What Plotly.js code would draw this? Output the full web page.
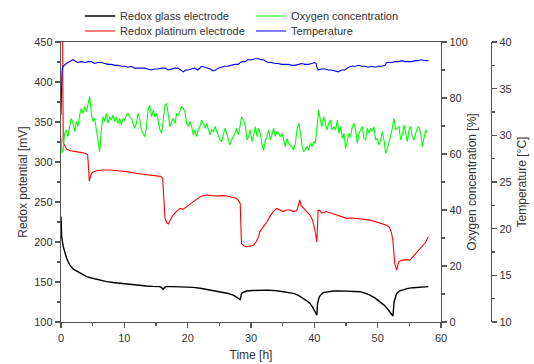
<!DOCTYPE html>
<html>
<head>
<meta charset="utf-8">
<script src="https://cdn.plot.ly/plotly-3.0.1.min.js"></script>
<style>html,body{margin:0;padding:0;background:#fff;}#chart{width:534px;height:364px;}</style>
</head>
<body>
<div id="chart"></div>
<script>
// ---- Redox glass electrode (left axis, mV) ----
var tGlass = [0, 0.1, 0.36, 0.63, 0.89, 1.15, 1.42, 1.95, 2.5, 3.0,
  3.5, 4.05, 4.8, 5.6, 6.4, 7.2, 8.2, 9.3, 10.3, 11.4,
  12.5, 13.5, 14.5, 15.6, 15.9, 16.1, 16.4, 16.7, 17.7, 18.8,
  19.9, 20.9, 22.0, 23.0, 24.0, 25.1, 26.2, 27.2, 27.7, 28.0,
  28.3, 28.5, 28.9, 29.3, 30.3, 31.4, 32.7, 34.05, 35.4, 36.7,
  37.5, 38.3, 38.8, 39.3, 39.7, 40.1, 40.4, 40.5, 40.8, 41.4,
  42.2, 43.0, 44.0, 45.1, 46.2, 47.2, 48.0, 48.8, 49.6, 50.4,
  51.1, 51.7, 52.1, 52.4, 52.6, 53.0, 53.5, 54.1, 54.8, 55.6,
  56.5, 57.3, 58.0];
var vGlass = [232, 207, 194, 186, 179.6, 175, 171, 166, 163.5, 161.7,
  159, 156.7, 155, 153.3, 151.5, 150.4, 149.3, 148.3, 147.2, 146.3,
  145.6, 145, 144.5, 144.2, 143, 140.8, 143.5, 144.2, 144.2, 144.2,
  143.8, 143.3, 142.2, 140.8, 139.4, 137.9, 136, 133.7, 131.5, 129.6,
  127.5, 135.8, 137.5, 138.7, 139.4, 140, 139.8, 139, 137.8, 135.8,
  133.2, 129.6, 126.5, 123.3, 119, 113, 108.7, 123, 131.7, 136.7,
  138, 138.7, 138.9, 138.7, 138.3, 137.9, 136, 133.7, 129.8, 125.4,
  120.5, 115, 110.5, 107.5, 125.4, 135.8, 139, 140.8, 142, 142.9,
  143.5, 144, 144.2];

// ---- Redox platinum electrode (left axis, mV) ----
var tPlat = [0, 0.25, 0.35, 0.63, 0.9, 1.42, 2.0, 2.47, 3.1, 3.79,
  4.21, 4.35, 4.47, 4.65, 4.84, 5.2, 5.63, 6.5, 7.74, 9.0,
  10.4, 11.7, 13.0, 14.0, 15.1, 15.7, 16.05, 16.2, 16.42, 16.7,
  16.95, 17.3, 17.7, 18.2, 18.8, 19.3, 19.8, 20.3, 20.9, 21.5,
  22.0, 22.5, 23.0, 23.8, 24.6, 25.4, 26.2, 27.0, 27.7, 28.0,
  28.3, 28.4, 28.5, 28.9, 29.3, 29.9, 30.4, 30.8, 31.2, 31.4,
  31.9, 32.5, 33.0, 33.5, 34.05, 34.6, 35.1, 35.6, 36.2, 36.7,
  37.2, 37.5, 37.7, 37.9, 38.3, 38.8, 39.3, 39.7, 40.1, 40.4,
  40.6, 40.9, 41.2, 41.9, 42.7, 43.5, 44.3, 45.1, 45.9, 46.7,
  47.5, 48.3, 49.0, 49.8, 50.6, 51.4, 51.9, 52.2, 52.4, 52.5,
  52.7, 53.0, 53.3, 53.7, 54.05, 54.6, 55.1, 55.6, 56.2, 56.7,
  57.2, 57.6, 58.0];
var vPlat = [480, 460, 324, 319, 316, 314, 313, 313, 312, 311,
  309, 292, 276, 282, 286, 288, 289, 290, 290, 289,
  288, 286, 285, 284, 282.5, 282, 280, 255, 230, 224,
  222.5, 228, 233.7, 238, 242, 241, 244, 247, 250, 254,
  256.7, 258, 258.7, 258, 257.5, 258, 257.5, 256, 254.6, 252,
  248, 220, 198, 195, 194, 195, 196, 200, 206.7, 213,
  218, 225, 232, 238, 242, 240, 238, 240, 240, 238,
  239, 246, 252.5, 246, 242, 238, 233.7, 228, 215, 200,
  240, 239, 236, 238, 236, 233.7, 232, 229.6, 230, 229.6,
  229, 228, 227, 225, 223, 221, 218, 210.8, 202, 190,
  173, 165, 175, 177, 177.5, 178, 177.5, 182, 188, 192,
  196, 200, 206.7];

// ---- Oxygen concentration (right axis, %) ----
var tO2 = [0, 0.15, 0.32, 0.58, 0.84, 1.10, 1.37, 1.63, 1.89, 2.16,
  2.42, 2.68, 2.95, 3.21, 3.47, 3.74, 4.00, 4.26, 4.53, 4.79,
  5.05, 5.32, 5.58, 5.84, 6.10, 6.37, 6.63, 6.89, 7.16, 7.42,
  7.68, 7.95, 8.21, 8.47, 8.74, 9.00, 9.26, 9.53, 9.79, 10.05,
  10.32, 10.58, 10.84, 11.11, 11.37, 11.63, 11.90, 12.16, 12.42, 12.68,
  12.95, 13.21, 13.47, 13.74, 14.00, 14.31, 14.58, 14.84, 15.10, 15.37,
  15.63, 15.89, 16.16, 16.42, 16.68, 16.94, 17.21, 17.47, 17.73, 18.00,
  18.26, 18.52, 18.79, 19.05, 19.31, 19.58, 19.84, 20.10, 20.37, 20.63,
  20.89, 21.16, 21.42, 21.68, 21.94, 22.21, 22.47, 22.73, 23.00, 23.26,
  23.52, 23.79, 24.05, 24.31, 24.58, 24.84, 25.10, 25.37, 25.63, 25.89,
  26.16, 26.42, 26.68, 26.94, 27.21, 27.47, 27.73, 28.00, 28.26, 28.52,
  28.84, 29.11, 29.37, 29.63, 29.90, 30.16, 30.42, 30.69, 30.95, 31.21,
  31.47, 31.74, 32.00, 32.26, 32.53, 32.79, 33.05, 33.32, 33.58, 33.84,
  34.11, 34.37, 34.63, 34.90, 35.16, 35.42, 35.69, 35.95, 36.21, 36.47,
  36.74, 37.00, 37.26, 37.53, 37.79, 38.05, 38.32, 38.58, 38.84, 39.11,
  39.37, 39.63, 39.90, 40.16, 40.42, 40.69, 40.95, 41.21, 41.47, 41.74,
  42.00, 42.26, 42.53, 42.79, 43.05, 43.36, 43.63, 43.89, 44.15, 44.42,
  44.68, 44.94, 45.21, 45.47, 45.73, 46.00, 46.26, 46.52, 46.78, 47.05,
  47.31, 47.57, 47.84, 48.10, 48.36, 48.63, 48.89, 49.15, 49.42, 49.68,
  49.94, 50.21, 50.47, 50.73, 51.00, 51.26, 51.52, 51.78, 52.05, 52.31,
  52.57, 52.84, 53.10, 53.36, 53.63, 53.89, 54.15, 54.42, 54.68, 54.94,
  55.21, 55.47, 55.73, 56.00, 56.26, 56.52, 56.79, 57.05, 57.31, 57.58,
  57.84];
var vO2 = [66, 60.5, 61, 67.4, 68.6, 66.2, 69.8, 72.7, 70.9, 68.0,
  71.6, 69.8, 73.9, 76.3, 74.5, 76.9, 75.1, 78.1, 80.5, 74.5,
  71.6, 72.7, 68.6, 65.0, 60.8, 68.6, 73.3, 71.6, 74.5, 70.9,
  73.3, 72.1, 73.9, 71.6, 73.3, 70.9, 72.7, 70.4, 72.7, 72.1,
  73.9, 74.5, 73.3, 72.7, 70.9, 69.2, 70.9, 74.5, 72.7, 68.6,
  67.4, 66.2, 69.2, 75.7, 77.5, 73.3, 75.7, 73.3, 74.5, 70.9,
  68.6, 67.4, 72.1, 77.5, 78.1, 73.3, 69.8, 71.6, 72.7, 70.9,
  74.5, 73.9, 75.7, 76.9, 76.3, 75.1, 70.9, 69.8, 71.6, 69.8,
  66.8, 68.6, 66.2, 68.6, 69.8, 72.1, 70.9, 69.2, 70.9, 68.6,
  66.8, 68.6, 68.0, 69.8, 68.0, 66.2, 65.0, 64.4, 66.8, 69.2,
  67.4, 65.0, 63.2, 65.0, 66.2, 67.4, 69.2, 66.8, 69.8, 73.3,
  72.1, 69.8, 65.0, 66.2, 68.6, 64.4, 66.8, 69.8, 66.2, 69.2,
  67.4, 63.2, 61.4, 65.0, 66.2, 68.6, 65.0, 67.4, 69.2, 66.2,
  68.0, 67.4, 66.2, 67.4, 65.0, 62.6, 65.6, 63.8, 63.2, 62.6,
  61.4, 63.8, 68.6, 70.9, 68.0, 63.2, 60.8, 62.0, 62.6, 61.4,
  63.8, 62.6, 64.4, 63.8, 68.6, 75.7, 72.1, 69.8, 73.3, 70.9,
  68.6, 70.9, 72.1, 68.6, 69.8, 68.6, 72.1, 67.4, 69.8, 65.6,
  67.4, 62.0, 65.0, 67.4, 66.2, 69.8, 70.9, 68.6, 63.8, 67.4,
  68.6, 69.8, 65.6, 65.0, 69.2, 67.4, 69.2, 68.0, 69.8, 65.0,
  65.6, 63.2, 65.0, 68.0, 65.0, 60.2, 62.0, 63.8, 66.2, 69.2,
  72.7, 68.6, 69.2, 69.8, 65.0, 66.8, 70.4, 67.4, 64.4, 68.6,
  69.8, 66.2, 65.0, 67.4, 69.2, 69.8, 67.4, 62.6, 65.0, 68.6,
  67.4];

// ---- Temperature (second right axis, °C) ----
var tTemp = [0, 0.15, 0.32, 0.84, 1.37, 1.89, 2.6, 3.2, 3.74, 4.3,
  4.79, 5.3, 5.84, 6.4, 6.9, 7.4, 7.95, 8.5, 9.0, 9.5,
  10.05, 10.6, 11.1, 11.6, 12.16, 12.7, 13.2, 13.7, 14.26, 14.8,
  15.3, 15.9, 16.4, 16.9, 17.4, 18.0, 18.5, 19.0, 19.3, 19.7,
  20.1, 20.6, 21.1, 21.6, 22.2, 22.7, 23.2, 23.6, 24.0, 24.4,
  24.8, 25.3, 25.8, 26.3, 26.9, 27.4, 27.95, 28.3, 28.7, 29.1,
  29.5, 30.1, 30.6, 31.2, 31.6, 32.0, 32.4, 32.7, 33.2, 33.8,
  34.3, 34.8, 35.4, 35.9, 36.4, 36.9, 37.5, 38.0, 38.5, 39.05,
  39.6, 40.1, 40.3, 40.4, 40.6, 41.1, 41.7, 42.2, 42.7, 43.3,
  43.8, 44.3, 44.8, 45.4, 45.9, 46.5, 47.0, 47.5, 48.0, 48.5,
  49.05, 49.6, 50.1, 50.6, 51.15, 51.4, 51.7, 52.2, 52.7, 53.3,
  53.8, 54.3, 54.8, 55.4, 55.9, 56.4, 56.9, 57.5, 58.0];
var vTemp = [32.2, 36.8, 37.4, 37.7, 37.9, 38.1, 37.8, 37.9, 37.8, 37.9,
  37.9, 37.7, 37.8, 37.8, 37.7, 37.6, 37.6, 37.5, 37.5, 37.4,
  37.4, 37.3, 37.4, 37.2, 37.2, 37.2, 37.2, 37.1, 37.0, 37.1,
  37.1, 37.2, 37.2, 37.0, 37.1, 37.2, 37.2, 37.0, 36.8, 37.0,
  37.0, 37.1, 37.2, 37.0, 37.4, 37.3, 37.2, 37.1, 36.9, 37.0,
  37.2, 37.3, 37.4, 37.4, 37.5, 37.6, 37.6, 37.8, 37.9, 37.9,
  38.1, 38.1, 38.2, 38.2, 38.1, 38.1, 37.9, 37.8, 37.8, 37.7,
  37.7, 37.6, 37.6, 37.6, 37.5, 37.5, 37.6, 37.7, 37.6, 37.6,
  37.7, 37.8, 37.7, 37.3, 37.0, 37.1, 37.1, 37.0, 37.0, 36.9,
  36.8, 37.0, 37.0, 37.3, 37.4, 37.4, 37.5, 37.4, 37.4, 37.3,
  37.4, 37.3, 37.4, 37.4, 37.5, 37.8, 37.8, 37.8, 37.9, 37.9,
  38.0, 37.9, 37.9, 37.9, 38.0, 38.0, 38.1, 38.0, 38.0];

var names = ['Redox glass electrode', 'Redox platinum electrode', 'Oxygen concentration', 'Temperature'];
var colors = ['#000000', '#ff0000', '#00ff00', '#0000ff'];

var FONT = 'Liberation Sans, Arial, Helvetica, sans-serif';
var AX = '#555555';
var TXT = '#333333';

var traces = [
  {x: tGlass, y: vGlass, name: names[0], type: 'scatter', mode: 'lines', yaxis: 'y', legend: 'legend',
   line: {color: colors[0], width: 1.4}},
  {x: tPlat, y: vPlat, name: names[1], type: 'scatter', mode: 'lines', yaxis: 'y', legend: 'legend2',
   line: {color: colors[1], width: 1.1}},
  {x: tO2, y: vO2, name: names[2], type: 'scatter', mode: 'lines', yaxis: 'y2', legend: 'legend',
   line: {color: colors[2], width: 1.1}},
  {x: tTemp, y: vTemp, name: names[3], type: 'scatter', mode: 'lines', yaxis: 'y3', legend: 'legend2',
   line: {color: colors[3], width: 1.1}}
];

function axisBase(extra) {
  var a = {
    showline: true, linecolor: AX, linewidth: 1.3,
    ticks: 'outside', ticklen: 5, tickwidth: 1.2, tickcolor: AX,
    showgrid: false, zeroline: false,
    tickfont: {family: FONT, size: 11, color: TXT}
  };
  for (var k in extra) a[k] = extra[k];
  return a;
}

function leg(x, y) {
  return {x: x, y: y, xref: 'container', yref: 'container', xanchor: 'left', yanchor: 'middle',
          bgcolor: 'rgba(0,0,0,0)',
          orientation: 'h', entrywidth: 126, entrywidthmode: 'pixels', traceorder: 'normal',
          borderwidth: 0, font: {family: FONT, size: 11, color: TXT}};
}

var layout = {
  width: 534, height: 364,
  margin: {l: 61, r: 39, t: 42, b: 42, pad: 0, autoexpand: false},
  paper_bgcolor: '#ffffff', plot_bgcolor: '#ffffff',
  font: {family: FONT, color: TXT},
  showlegend: true,
  legend: leg(0.150, 0.956),
  legend2: leg(0.150, 0.915),
  xaxis: axisBase({
    domain: [0, 0.8756], range: [0, 60], dtick: 10, tick0: 0, mirror: true,
    minor: {dtick: 5, ticks: 'outside', ticklen: 3, tickcolor: AX},
    title: {text: 'Time [h]', font: {family: FONT, size: 12, color: TXT}, standoff: 8}
  }),
  yaxis: axisBase({
    range: [100, 450], dtick: 50, tick0: 100,
    minor: {dtick: 25, ticks: 'outside', ticklen: 3, tickcolor: AX},
    title: {text: 'Redox potential [mV]', font: {family: FONT, size: 12, color: TXT}, standoff: 4}
  }),
  yaxis2: axisBase({
    overlaying: 'y', side: 'right', anchor: 'x', range: [0, 100], dtick: 20, tick0: 0,
    minor: {dtick: 10, ticks: 'outside', ticklen: 3, tickcolor: AX},
    title: {text: 'Oxygen concentration [%]', font: {family: FONT, size: 12, color: TXT}, standoff: 0}
  }),
  yaxis3: axisBase({
    overlaying: 'y', side: 'right', anchor: 'free', position: 0.9908, range: [10, 40], dtick: 5, tick0: 10,
    minor: {dtick: 2.5, ticks: 'outside', ticklen: 3, tickcolor: AX},
    title: {text: 'Temperature [°C]', font: {family: FONT, size: 12, color: TXT}, standoff: 6}
  })
};

Plotly.newPlot('chart', traces, layout, {displayModeBar: false, staticPlot: true});
</script>
</body>
</html>
